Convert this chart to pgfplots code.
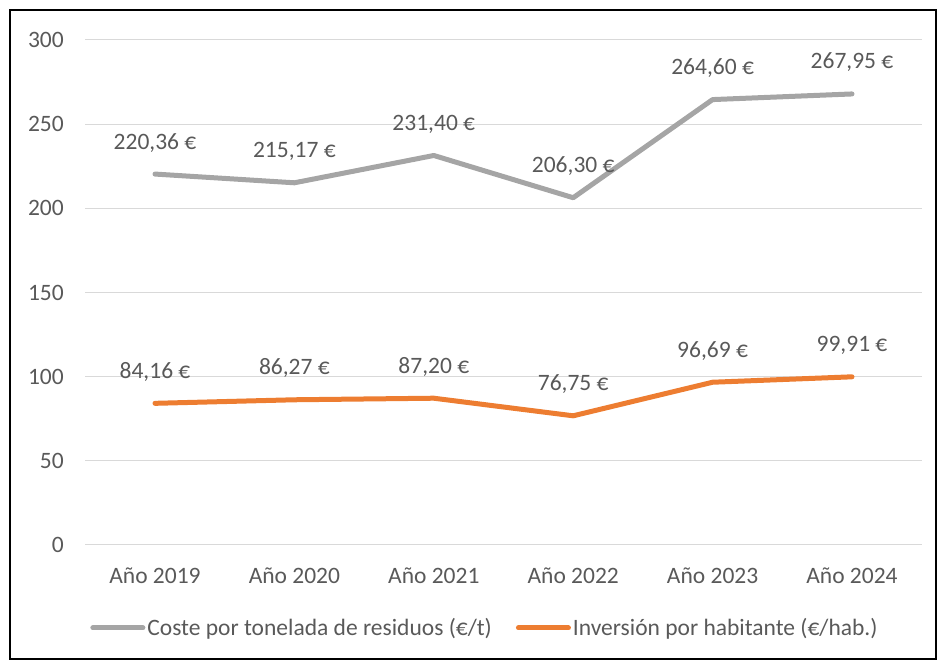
\documentclass[border=0pt]{standalone}
\usepackage{fontspec}
\setmainfont{Carlito}
\usepackage{pgfplots}
\pgfplotsset{compat=1.18}
\definecolor{txt}{HTML}{595959}
\definecolor{gridc}{HTML}{D9D9D9}
\definecolor{serA}{HTML}{A5A5A5}
\definecolor{serB}{HTML}{ED7D31}
\newcommand{\cf}{\fontsize{23.5pt}{27pt}\selectfont}
\begin{document}
\begin{tikzpicture}
\useasboundingbox (0pt,0pt) rectangle (940pt,661pt);
\draw[black,line width=1.2pt] (10pt,2pt) rectangle (936pt,651pt);
\begin{axis}[
  at={(85.3pt,116pt)}, anchor=south west,
  scale only axis, width=836.4pt, height=505pt,
  xmin=-0.5, xmax=5.5, ymin=0, ymax=300,
  ytick={0,50,...,300},
  xtick={0,...,5},
  xticklabels={Año 2019,Año 2020,Año 2021,Año 2022,Año 2023,Año 2024},
  axis line style={draw=none},
  major tick length=0pt,
  ymajorgrids, grid style={gridc,line width=1pt},
  tick label style={text=txt, font=\cf},
  /pgf/number format/assume math mode=true,
  yticklabel style={anchor=east, xshift=-18pt},
  xticklabel style={anchor=center, yshift=-31pt},
  clip=false,
  point meta=explicit symbolic,
  nodes near coords,
  every node near coord/.append style={anchor=base, yshift=25pt, text=txt, font=\cf},
  legend columns=2,
  legend style={at={(399.7pt,-83pt)}, anchor=center, draw=none, fill=none, text=txt,
     font=\cf, inner sep=0pt, /tikz/every even column/.append style={column sep=22pt}},
  legend cell align=left,
  legend image code/.code={\draw[#1, line width=5pt, line cap=round] (0pt,0pt) -- (50pt,0pt);},
]
\addplot[serA, line width=5pt, line join=round, line cap=round] coordinates {
  (0,220.36) [220,36 €]
  (1,215.17) [215,17 €]
  (2,231.40) [231,40 €]
  (3,206.30) [206,30 €]
  (4,264.60) [264,60 €]
  (5,267.95) [267,95 €]
};
\addlegendentry{Coste por tonelada de residuos (€/t)}
\addplot[serB, line width=5pt, line join=round, line cap=round] coordinates {
  (0,84.16) [84,16 €]
  (1,86.27) [86,27 €]
  (2,87.20) [87,20 €]
  (3,76.75) [76,75 €]
  (4,96.69) [96,69 €]
  (5,99.91) [99,91 €]
};
\addlegendentry{Inversión por habitante (€/hab.)}
\end{axis}
\end{tikzpicture}
\end{document}
